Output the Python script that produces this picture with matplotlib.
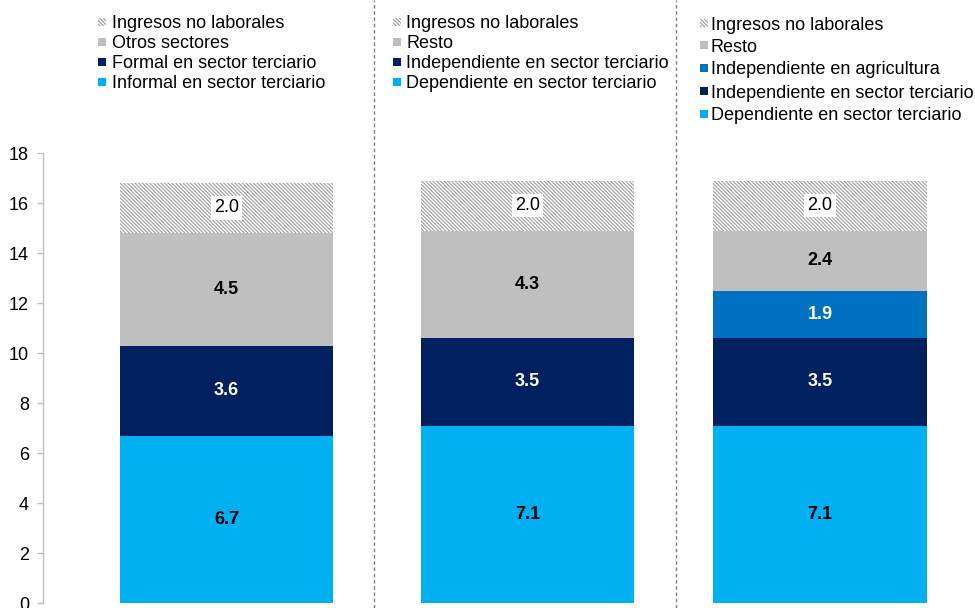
import matplotlib
matplotlib.use('Agg')
import matplotlib.pyplot as plt
from matplotlib.patches import Rectangle
from matplotlib.transforms import blended_transform_factory

plt.rcParams['font.family'] = ['Liberation Sans', 'DejaVu Sans']
plt.rcParams['hatch.color'] = '#A6A6A6'
plt.rcParams['hatch.linewidth'] = 0.9

# ── Datos ─────────────────────────────────────────────────────────────────────
p1_labels = ['Informal en sector terciario', 'Formal en sector terciario',
             'Otros sectores', 'Ingresos no laborales']
p1_values = [6.7, 3.6, 4.5, 2.0]

p2_labels = ['Dependiente en sector terciario', 'Independiente en sector terciario',
             'Resto', 'Ingresos no laborales']
p2_values = [7.1, 3.5, 4.3, 2.0]

p3_labels = ['Dependiente en sector terciario', 'Independiente en sector terciario',
             'Independiente en agricultura', 'Resto', 'Ingresos no laborales']
p3_values = [7.1, 3.5, 1.9, 2.4, 2.0]

y_ticks = [0, 2, 4, 6, 8, 10, 12, 14, 16, 18]

# ── Estilos ───────────────────────────────────────────────────────────────────
CYAN  = '#00B0F0'
NAVY  = '#002060'
BLUE  = '#0070C0'
GRAY  = '#BFBFBF'
HATCH = 'hatch'
HATCH_PAT = '\\' * 9

p1_colors = [CYAN, NAVY, GRAY, HATCH]
p2_colors = [CYAN, NAVY, GRAY, HATCH]
p3_colors = [CYAN, NAVY, BLUE, GRAY, HATCH]

panels = [
    (0.0,  p1_labels, p1_values, p1_colors),
    (1.0,  p2_labels, p2_values, p2_colors),
    (1.972, p3_labels, p3_values, p3_colors),
]
BAR_W = 0.708

fig = plt.figure(figsize=(9.75, 6.08), dpi=100)
ax = fig.add_axes([43 / 975, 5 / 608, 932 / 975, 450 / 608])

for xpos, labels, values, colors in panels:
    bottom = 0.0
    for lab, val, col in zip(labels, values, colors):
        if col == HATCH:
            ax.bar(xpos, val, BAR_W, bottom=bottom, color='white',
                   hatch=HATCH_PAT, edgecolor='#A6A6A6', linewidth=0)
            ax.text(xpos, bottom + val / 2, f'{val:.1f}', ha='center', va='center',
                    fontsize=13, color='black',
                    bbox=dict(facecolor='white', edgecolor='none', pad=2.5))
        else:
            ax.bar(xpos, val, BAR_W, bottom=bottom, color=col, linewidth=0)
            tcol = 'white' if col in (NAVY, BLUE) else 'black'
            ax.text(xpos, bottom + val / 2, f'{val:.1f}', ha='center', va='center',
                    fontsize=13, fontweight='bold', color=tcol)
        bottom += val

ax.set_xlim(-0.6096, 2.487)
ax.set_ylim(0, 18)
ax.set_yticks(y_ticks)
ax.set_xticks([])
ax.tick_params(axis='y', labelsize=13, colors='#BFBFBF', labelcolor='black',
               length=4, width=1, pad=6)
for side in ['top', 'right', 'bottom']:
    ax.spines[side].set_visible(False)
ax.spines['left'].set_color('#BFBFBF')
ax.spines['left'].set_linewidth(1)

# separadores verticales
trans = blended_transform_factory(ax.transData, fig.transFigure)
for xs in [0.49, 1.493]:
    ax.plot([xs, xs], [0, 1], transform=trans, clip_on=False,
            color='#7F7F7F', linestyle=(0, (2.5, 2)), linewidth=1)

# ── Leyendas ──────────────────────────────────────────────────────────────────
W, H = 975.0, 608.0


def draw_legend(x_marker, x_text, y_rows, labels, colors):
    for y, lab, col in zip(y_rows, labels, colors):
        if col == HATCH:
            r = Rectangle((x_marker / W, 1 - (y + 4) / H), 8 / W, 8 / H,
                          transform=fig.transFigure, facecolor='white',
                          hatch=HATCH_PAT, edgecolor='#A6A6A6', linewidth=0)
        else:
            r = Rectangle((x_marker / W, 1 - (y + 4) / H), 8 / W, 8 / H,
                          transform=fig.transFigure, facecolor=col, linewidth=0)
        fig.patches.append(r)
        fig.text(x_text / W, 1 - (y + 2) / H, lab, ha='left', va='center',
                 fontsize=13, color='black')


draw_legend(98, 112, [22, 42, 62, 82], p1_labels[::-1], p1_colors[::-1])
draw_legend(393, 406, [22, 42, 62, 82], p2_labels[::-1], p2_colors[::-1])
draw_legend(700, 711, [23, 45, 68, 91, 114], p3_labels[::-1], p3_colors[::-1])

fig.savefig('out.png', dpi=100, facecolor='white')
